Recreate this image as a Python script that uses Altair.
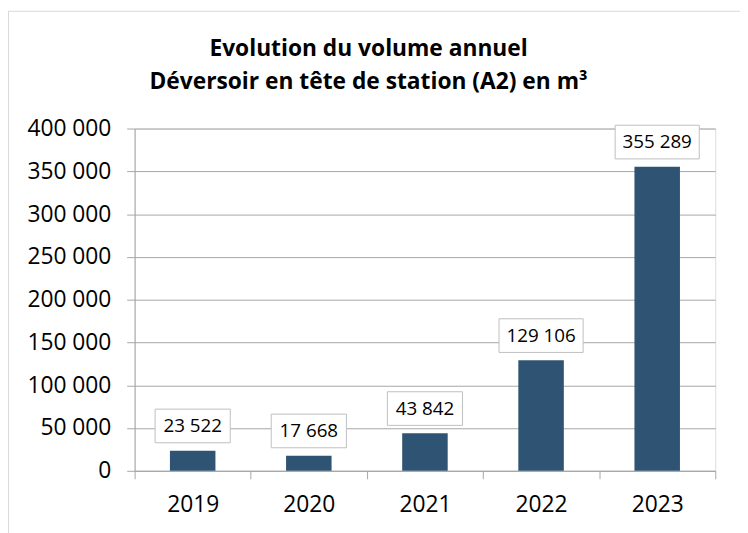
import altair as alt
import pandas as pd

years = ["2019", "2020", "2021", "2022", "2023"]
volumes = [23522, 17668, 43842, 129106, 355289]
y_ticks = [0, 50000, 100000, 150000, 200000, 250000, 300000, 350000, 400000]
title_lines = ["Evolution du volume annuel", "Déversoir en tête de station (A2) en m³"]

df = pd.DataFrame({"year": years, "volume": volumes})

FONT = "Open Sans"
GRID = "#A6A6A6"
fmt_expr = "replace(format({v}, ',d'), regexp(',', 'g'), ' ')"

box5 = "M-0.894,-0.4L0.894,-0.4L0.894,0.4L-0.894,0.4Z"
box6 = "M-1,-0.4L1,-0.4L1,0.4L-1,0.4Z"

x_enc = alt.X(
    "year:N",
    sort=years,
    scale=alt.Scale(paddingInner=0, paddingOuter=0),
    axis=alt.Axis(
        title=None,
        labelAngle=0,
        tickBand="extent",
        tickSize=8,
        tickColor=GRID,
        domainColor=GRID,
        labelFont=FONT,
        labelFontSize=23,
        labelColor="black",
        labelPadding=15,
        grid=False,
    ),
)
y_enc = alt.Y(
    "volume:Q",
    scale=alt.Scale(domain=[0, 400000]),
    axis=alt.Axis(
        title=None,
        values=y_ticks,
        labelExpr=fmt_expr.format(v="datum.value"),
        tickSize=8,
        tickColor=GRID,
        domainColor=GRID,
        gridColor=GRID,
        labelFont=FONT,
        labelFontSize=23,
        labelColor="black",
        labelPadding=16,
    ),
)

base = alt.Chart(df).transform_calculate(
    label=fmt_expr.format(v="datum.volume"),
)

bars = base.mark_bar(size=46, color="#2F5473").encode(x=x_enc, y=y_enc)

pos = dict(x=alt.X("year:N", sort=years), y=alt.Y("volume:Q"))
box_style = dict(filled=True, fill="white", stroke="#BFBFBF", strokeWidth=1, opacity=1, size=7225, yOffset=-25)

boxes_small = base.transform_filter("datum.volume < 100000").mark_point(shape=box5, **box_style).encode(**pos)
boxes_large = base.transform_filter("datum.volume >= 100000").mark_point(shape=box6, **box_style).encode(**pos)

texts = base.mark_text(font=FONT, fontSize=19, color="black", baseline="middle", yOffset=-25).encode(
    text="label:N", **pos
)

frame_df = pd.DataFrame({"a": [0]})
frame_top = alt.Chart(frame_df).mark_rule(color="#D9D9D9", strokeWidth=1).encode(
    x=alt.value(-128), x2=alt.value(620), y=alt.value(-118.5)
)
frame_left = alt.Chart(frame_df).mark_rule(color="#D9D9D9", strokeWidth=1).encode(
    x=alt.value(-127.5), y=alt.value(-119), y2=alt.value(420)
)

chart = (
    alt.layer(frame_top, frame_left, bars, boxes_small, boxes_large, texts)
    .properties(
        width=587,
        height=346,
        autosize=alt.AutoSizeParams(type="none"),
        padding={"left": 128, "top": 119, "right": 25, "bottom": 60},
        title=alt.TitleParams(
            text=title_lines,
            font=FONT,
            fontSize=23,
            fontWeight="bold",
            color="black",
            anchor="middle",
            frame="group",
            baseline="top",
            dx=-57,
            lineHeight=34,
            offset=-85,
        ),
    )
    .configure_view(stroke=None)
    .configure(background="white")
)

chart.save("out.html", embed_options={"renderer": "svg", "actions": False})
